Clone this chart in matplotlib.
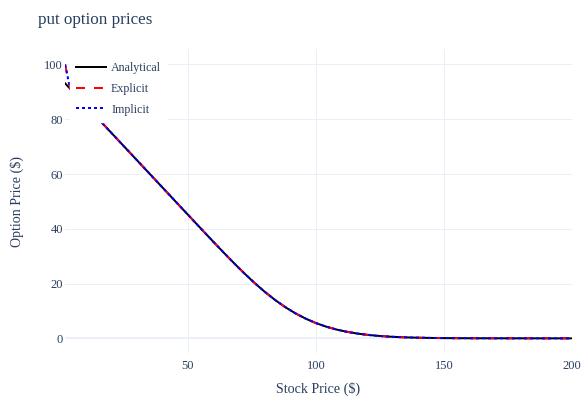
import matplotlib.pyplot as plt

# stock price grid and option values for each pricing method
stock = [2, 4, 20, 36, 52, 56, 60, 64, 68, 72, 76, 80, 84, 88, 92, 96,
         100, 104, 108, 112, 116, 120, 124, 128, 132, 136, 140, 144, 148,
         152, 160, 170, 180, 190, 200]
analytical = [93.12, 91.12, 75.12, 59.12, 43.13, 39.14, 35.18, 31.26, 27.43,
              23.74, 20.23, 16.98, 14.03, 11.40, 9.11, 7.18, 5.57, 4.26, 3.22,
              2.40, 1.77, 1.29, 0.93, 0.66, 0.47, 0.33, 0.23, 0.16, 0.11,
              0.08, 0.04, 0.02, 0.01, 0.00, 0.00]
explicit = [100.00, 91.12, 75.12, 59.12, 43.13, 39.14, 35.18, 31.26, 27.43,
            23.74, 20.23, 16.98, 14.03, 11.40, 9.11, 7.18, 5.57, 4.26, 3.22,
            2.40, 1.77, 1.29, 0.93, 0.66, 0.47, 0.33, 0.23, 0.16, 0.11,
            0.08, 0.04, 0.02, 0.01, 0.00, 0.00]
implicit = [100.00, 91.12, 75.12, 59.12, 43.13, 39.14, 35.18, 31.26, 27.43,
            23.74, 20.23, 16.98, 14.03, 11.40, 9.11, 7.18, 5.57, 4.26, 3.22,
            2.40, 1.77, 1.29, 0.93, 0.66, 0.47, 0.33, 0.23, 0.16, 0.11,
            0.08, 0.04, 0.02, 0.01, 0.00, 0.00]

x_ticks = [50, 100, 150, 200]
y_ticks = [0, 20, 40, 60, 80, 100]

plt.rcParams['font.family'] = ['Liberation Serif', 'DejaVu Serif']
text_color = '#2a3f5f'
grid_color = '#ebf0f8'

fig = plt.figure(figsize=(5.81, 3.97), dpi=100)
ax = fig.add_axes([0.112, 0.1098, 0.8726, 0.7657])

lw = 1.44
ax.plot(stock, analytical, color='black', lw=lw, label='Analytical')
ax.plot(stock, explicit, color='red', lw=lw, dashes=(4.5, 4.5), label='Explicit')
ax.plot(stock, implicit, color='blue', lw=lw, dashes=(1.5, 1.5), label='Implicit')

ax.set_xlim(2, 200)
ax.set_ylim(-5.5, 105.5)
ax.set_xticks(x_ticks)
ax.set_yticks(y_ticks)
ax.grid(color=grid_color, lw=0.72)
ax.set_axisbelow(True)
ax.axhline(0, color=grid_color, lw=1.44, zorder=0.6)
for s in ax.spines.values():
    s.set_visible(False)
ax.tick_params(axis='both', length=0, labelsize=9, labelcolor=text_color)
ax.tick_params(axis='x', pad=5)
ax.tick_params(axis='y', pad=1.5)

ax.set_xlabel('Stock Price ($)', fontsize=10.08, color=text_color, va='center')
ax.xaxis.set_label_coords(0.5, -0.118)
ax.set_ylabel('Option Price ($)', fontsize=10.08, color=text_color, va='center')
ax.yaxis.set_label_coords(-0.0955, 0.5)

fig.text(38 / 581, 1 - 20 / 397, 'put option prices', fontsize=12.24,
         color=text_color, ha='left', va='center')

leg = ax.legend(loc='upper left', bbox_to_anchor=(0.0097, 0.977), fontsize=8.64,
                frameon=True, fancybox=False, facecolor='white', edgecolor='white',
                framealpha=1, borderpad=0.5, handlelength=2.5, handletextpad=0.42,
                labelspacing=0.72, borderaxespad=0)
for t in leg.get_texts():
    t.set_color(text_color)

fig.savefig('out.png', dpi=100)
